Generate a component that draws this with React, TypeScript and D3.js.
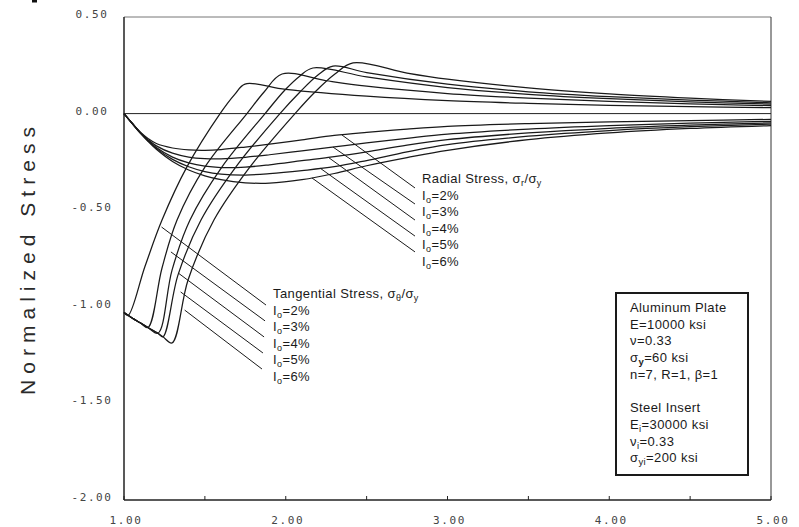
import React from "react";
import * as d3 from "d3";

const W = 799;
const H = 527;

// Interference levels I_o
const interferenceLevels = ["2%", "3%", "4%", "5%", "6%"];

// Tangential stress σθ/σy against r/a, one [r/a, stress] list per interference level
const tangential2: [number, number][] = [
  [1.0, -1.03], [1.025, -1.045], [1.13, -0.79], [1.235, -0.551], [1.389, -0.276],
  [1.594, 0.0], [1.686, 0.101], [1.748, 0.153], [2.0, 0.125], [2.5, 0.09],
  [3.0, 0.067], [3.5, 0.053], [4.0, 0.043], [4.5, 0.036], [5.0, 0.031],
];
const tangential3: [number, number][] = [
  [1.0, -1.03], [1.05, -1.058], [1.1, -1.083], [1.148, -1.107], [1.235, -0.799],
  [1.328, -0.551], [1.501, -0.276], [1.76, 0.0], [1.866, 0.112], [1.977, 0.205],
  [2.25, 0.17], [2.5, 0.142], [3.0, 0.104], [3.5, 0.08], [4.0, 0.063], [4.5, 0.05], [5.0, 0.041],
];
const tangential4: [number, number][] = [
  [1.0, -1.03], [1.05, -1.058], [1.1, -1.083], [1.148, -1.107], [1.21, -1.137],
  [1.297, -0.81], [1.408, -0.551], [1.606, -0.276], [1.872, 0.0], [1.995, 0.122],
  [2.088, 0.195], [2.168, 0.236], [2.5, 0.19], [3.0, 0.135], [3.5, 0.1], [4.0, 0.077],
  [4.5, 0.061], [5.0, 0.049],
];
const tangential5: [number, number][] = [
  [1.0, -1.03], [1.05, -1.058], [1.1, -1.083], [1.148, -1.107], [1.21, -1.137],
  [1.241, -1.155], [1.334, -0.835], [1.476, -0.551], [1.692, -0.276], [1.964, 0.0],
  [2.088, 0.112], [2.199, 0.2], [2.292, 0.246], [2.5, 0.212], [3.0, 0.152], [3.5, 0.113],
  [4.0, 0.088], [4.5, 0.07], [5.0, 0.056],
];
const tangential6: [number, number][] = [
  [1.0, -1.03], [1.05, -1.058], [1.1, -1.083], [1.148, -1.107], [1.21, -1.137],
  [1.241, -1.155], [1.297, -1.187], [1.396, -0.861], [1.556, -0.551], [1.779, -0.276],
  [2.057, 0.0], [2.181, 0.112], [2.304, 0.205], [2.416, 0.262], [2.75, 0.21],
  [3.0, 0.178], [3.5, 0.133], [4.0, 0.102], [4.5, 0.08], [5.0, 0.063],
];

// Radial stress σr/σy, sampled on a shared r/a grid
const radialR = [1.0, 1.05, 1.1, 1.15, 1.2, 1.3, 1.4, 1.5, 1.6, 1.75, 1.9, 2.1, 2.3, 2.5, 2.75, 3.0, 3.5, 4.0, 4.5, 5.0];
const radial2 = [0, -0.05, -0.095, -0.13, -0.155, -0.178, -0.188, -0.19, -0.186, -0.173, -0.158, -0.136, -0.113, -0.097, -0.08, -0.066, -0.052, -0.043, -0.036, -0.03];
const radial3 = [0, -0.05, -0.097, -0.136, -0.167, -0.205, -0.225, -0.233, -0.234, -0.226, -0.213, -0.193, -0.172, -0.152, -0.128, -0.106, -0.08, -0.062, -0.049, -0.04];
const radial4 = [0, -0.05, -0.099, -0.14, -0.175, -0.225, -0.255, -0.272, -0.279, -0.277, -0.265, -0.244, -0.223, -0.198, -0.163, -0.135, -0.1, -0.076, -0.06, -0.048];
const radial5 = [0, -0.05, -0.1, -0.143, -0.18, -0.237, -0.275, -0.3, -0.313, -0.318, -0.311, -0.295, -0.275, -0.243, -0.198, -0.16, -0.117, -0.088, -0.068, -0.055];
const radial6 = [0, -0.05, -0.1, -0.145, -0.185, -0.248, -0.292, -0.322, -0.342, -0.358, -0.36, -0.342, -0.31, -0.27, -0.228, -0.19, -0.135, -0.1, -0.077, -0.062];

// Axis ticks
const xTicks = [1.0, 1.5, 2.0, 2.5, 3.0, 3.5, 4.0, 4.5, 5.0];
const xTickLabels = ["1.00", "2.00", "3.00", "4.00", "5.00"];
const yTicks = [0.5, 0.0, -0.5, -1.0, -1.5, -2.0];
const yTickLabels = ["0.50", "0.00", "-0.50", "-1.00", "-1.50", "-2.00"];

// Leader lines from curves to their labels, in data units
const radialLeaderFrom: [number, number][] = [[2.348, -0.111], [2.292, -0.173], [2.261, -0.225], [2.212, -0.282], [2.162, -0.333]];
const radialLeaderTo: [number, number][] = [[2.799, -0.385], [2.799, -0.468], [2.799, -0.551], [2.799, -0.634], [2.799, -0.716]];
const tangLeaderFrom: [number, number][] = [[1.232, -0.587], [1.29, -0.716], [1.335, -0.825], [1.35, -0.923], [1.375, -1.017]];
const tangLeaderTo: [number, number][] = [[1.878, -0.991], [1.872, -1.073], [1.866, -1.156], [1.859, -1.239], [1.853, -1.322]];

const FONT = "'Liberation Sans', Arial, Helvetica, sans-serif";
const MONO = "'DejaVu Sans Mono', monospace";
const INK = "#1a1a1a";

function IoLabel({ x, y, pct }: { x: number; y: number; pct: string }) {
  return (
    <text x={x} y={y} fontFamily={FONT} fontSize={13} letterSpacing={0.4} fill={INK}>
      I
      <tspan fontSize={9} dy={3}>o</tspan>
      <tspan dy={-3}>={pct}</tspan>
    </text>
  );
}

export default function App() {
  const x = d3.scaleLinear().domain([1, 5]).range([124, 771]);
  const y = d3.scaleLinear().domain([-2, 0.5]).range([500, 17]);

  const line = d3
    .line<[number, number]>()
    .x((d) => x(d[0]))
    .y((d) => y(d[1]))
    .curve(d3.curveCatmullRom.alpha(0.5));

  const tangential = [tangential2, tangential3, tangential4, tangential5, tangential6];
  const radial = [radial2, radial3, radial4, radial5, radial6].map((vals) =>
    vals.map((v, i) => [radialR[i], v] as [number, number])
  );

  const radialTextX = 422;
  const tangTextX = 273;
  const rowStep = 16.5;

  const legendTop = 293;
  const legendLines: React.ReactNode[] = [
    "Aluminum Plate",
    "E=10000 ksi",
    "\u03bd=0.33",
    <>
      {"\u03c3"}
      <tspan fontSize={9.5} dy={3} fontWeight="bold">y</tspan>
      <tspan dy={-3}>=60 ksi</tspan>
    </>,
    "n=7, R=1, \u03b2=1",
    null,
    "Steel Insert",
    <>
      E<tspan fontSize={9.5} dy={3}>i</tspan>
      <tspan dy={-3}>=30000 ksi</tspan>
    </>,
    <>
      {"\u03bd"}
      <tspan fontSize={9.5} dy={3}>i</tspan>
      <tspan dy={-3}>=0.33</tspan>
    </>,
    <>
      {"\u03c3"}
      <tspan fontSize={9.5} dy={3}>yi</tspan>
      <tspan dy={-3}>=200 ksi</tspan>
    </>,
  ];

  return (
    <svg
      width={W}
      height={H}
      viewBox={`0 0 ${W} ${H}`}
      style={{ position: "absolute", left: 0, top: 0, background: "#fff" }}
    >
      <rect x={0} y={0} width={W} height={H} fill="#fff" />
      <rect x={32} y={0} width={5} height={2.5} fill="#111" />

      {/* frame */}
      <line x1={x(1)} x2={x(5)} y1={y(0.5)} y2={y(0.5)} stroke="#777" strokeWidth={1} />
      <line x1={x(5)} x2={x(5)} y1={y(0.5)} y2={y(-2)} stroke="#333" strokeWidth={1} />
      <line x1={x(1)} x2={x(1)} y1={y(0.5)} y2={y(-2)} stroke="#222" strokeWidth={1.5} />
      <line x1={x(1)} x2={x(5)} y1={y(-2)} y2={y(-2)} stroke="#222" strokeWidth={1.5} />
      <line x1={x(1)} x2={x(5)} y1={y(0)} y2={y(0)} stroke="#222" strokeWidth={1} />

      {/* x ticks */}
      {xTicks.map((t) => (
        <line key={t} x1={x(t)} x2={x(t)} y1={y(-2)} y2={y(-2) - 4} stroke="#222" strokeWidth={1} />
      ))}
      {xTickLabels.map((lab, i) => (
        <text
          key={lab}
          x={x(1 + i) + 2}
          y={524}
          textAnchor="middle"
          fontFamily={MONO}
          fontSize={11}
          letterSpacing={1.6}
          fill="#444"
        >
          {lab}
        </text>
      ))}
      {yTicks.map((t, i) => (
        <text
          key={t}
          x={92}
          y={y(t) + 1}
          textAnchor="middle"
          fontFamily={MONO}
          fontSize={11}
          letterSpacing={1.6}
          fill="#444"
        >
          {yTickLabels[i]}
        </text>
      ))}

      <text
        transform="translate(35,261) rotate(-90)"
        textAnchor="middle"
        fontFamily={FONT}
        fontSize={21}
        textLength={268}
        lengthAdjust="spacing"
        fill="#2a2a2a"
      >
        Normalized Stress
      </text>

      {/* stress curves */}
      <g fill="none" stroke={INK} strokeWidth={1.25} strokeLinejoin="round">
        {radial.map((s, i) => (
          <path key={`r${i}`} d={line(s) ?? ""} />
        ))}
        {tangential.map((s, i) => (
          <path key={`t${i}`} d={line(s) ?? ""} />
        ))}
      </g>

      {/* leader lines */}
      <g stroke={INK} strokeWidth={1}>
        {radialLeaderFrom.map((p, i) => (
          <line key={`rl${i}`} x1={x(p[0])} y1={y(p[1])} x2={x(radialLeaderTo[i][0])} y2={y(radialLeaderTo[i][1])} />
        ))}
        {tangLeaderFrom.map((p, i) => (
          <line key={`tl${i}`} x1={x(p[0])} y1={y(p[1])} x2={x(tangLeaderTo[i][0])} y2={y(tangLeaderTo[i][1])} />
        ))}
      </g>

      {/* radial labels */}
      <text x={radialTextX} y={183} fontFamily={FONT} fontSize={13} letterSpacing={0.4} fill={INK}>
        Radial Stress, {"\u03c3"}
        <tspan fontSize={9} dy={3}>r</tspan>
        <tspan dy={-3}>/{"\u03c3"}</tspan>
        <tspan fontSize={9} dy={3}>y</tspan>
      </text>
      {interferenceLevels.map((pct, i) => (
        <IoLabel key={`ri${pct}`} x={radialTextX} y={183 + rowStep * (i + 1)} pct={pct} />
      ))}

      {/* tangential labels */}
      <text x={tangTextX} y={298} fontFamily={FONT} fontSize={13} letterSpacing={0.4} fill={INK}>
        Tangential Stress, {"\u03c3"}
        <tspan fontSize={9} dy={3}>{"\u03b8"}</tspan>
        <tspan dy={-3}>/{"\u03c3"}</tspan>
        <tspan fontSize={9} dy={3}>y</tspan>
      </text>
      {interferenceLevels.map((pct, i) => (
        <IoLabel key={`ti${pct}`} x={tangTextX} y={298 + rowStep * (i + 1)} pct={pct} />
      ))}

      {/* material properties box */}
      <rect x={616} y={legendTop} width={132} height={182} fill="#fff" stroke="#1a1a1a" strokeWidth={2} />
      {legendLines.map((content, i) =>
        content === null ? null : (
          <text
            key={`lg${i}`}
            x={630}
            y={312 + i * 16.7}
            fontFamily={FONT}
            fontSize={13}
            letterSpacing={0.4}
            fill={INK}
          >
            {content}
          </text>
        )
      )}
    </svg>
  );
}
